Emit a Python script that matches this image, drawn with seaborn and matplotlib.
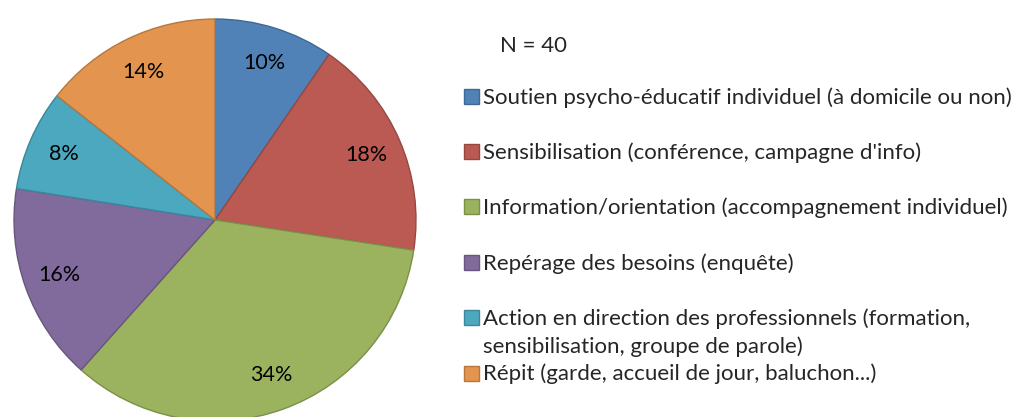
import matplotlib
matplotlib.use("Agg")
import matplotlib.pyplot as plt
import matplotlib.colors as mcolors
from matplotlib.patches import Rectangle
import seaborn as sns

categories = [
    "Soutien psycho-éducatif individuel (à domicile ou non)",
    "Sensibilisation (conférence, campagne d'info)",
    "Information/orientation (accompagnement individuel)",
    "Repérage des besoins (enquête)",
    "Action en direction des professionnels (formation,\nsensibilisation, groupe de parole)",
    "Répit (garde, accueil de jour, baluchon...)",
]
parts = [9.6, 17.8, 34.2, 15.9, 8.1, 14.4]
couleurs = ["#5082B7", "#BA5A53", "#9BB35E", "#816B9C", "#4BA8BF", "#E3954F"]
titre_n = "N = 40"

sns.set_theme(style="white")
plt.rcParams["font.family"] = ["Lato", "DejaVu Sans"]

W, H = 1023, 417
fig = plt.figure(figsize=(W / 100, H / 100), dpi=100)
fig.patch.set_facecolor("white")

# pie axes: centre (215, 220) px, radius ~203 px
cx, cy, r = 215, 220, 203
ax = fig.add_axes([(cx - r) / W, (H - cy - r) / H, 2 * r / W, 2 * r / H])
palette = sns.color_palette(couleurs)
bords = [tuple(c * 0.8 for c in mcolors.to_rgb(p)) for p in palette]

wedges, textes, pcts = ax.pie(
    parts, colors=palette, startangle=90, counterclock=False,
    autopct="%.0f%%", pctdistance=0.82, radius=1,
    wedgeprops=dict(linewidth=1.0),
    textprops=dict(fontsize=15.5, color="black"),
)
for w, b in zip(wedges, bords):
    w.set_edgecolor(b)
ax.set_xlim(-1.01, 1.01)
ax.set_ylim(-1.01, 1.01)
ax.set_aspect("equal")
ax.axis("off")

# legend drawn by hand (Excel style, marker aligned with first line)
fs = 16
fig.text(500 / W, 1 - 52 / H, titre_n, fontsize=fs, va="baseline", ha="left")
y0, pas, interligne = 96, 55.4, 28
for i, (lab, col, b) in enumerate(zip(categories, palette, bords)):
    y = y0 + i * pas
    fig.patches.append(Rectangle((464 / W, 1 - (y + 7.5) / H), 15 / W, 15 / H,
                                 transform=fig.transFigure, facecolor=col,
                                 edgecolor=b, linewidth=1.0))
    for k, ligne in enumerate(lab.split("\n")):
        fig.text(483 / W, 1 - (y + 7.5 + k * interligne) / H, ligne,
                 fontsize=fs, va="baseline", ha="left")

fig.savefig("out.png", dpi=100, facecolor="white")
